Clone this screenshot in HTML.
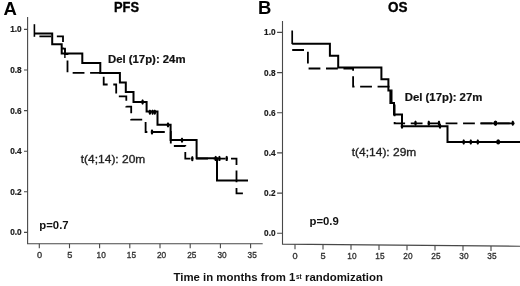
<!DOCTYPE html>
<html><head><meta charset="utf-8">
<style>
html,body{margin:0;padding:0;background:#fff;width:520px;height:286px;overflow:hidden}
svg{display:block;filter:blur(0.3px)}
text{font-family:"Liberation Sans",sans-serif}
.b{font-weight:bold}
.yl{font-size:8.2px;font-weight:bold;fill:#1a1a1a;stroke:#1a1a1a;stroke-width:0.2;text-anchor:end}
.xl{font-size:9.2px;fill:#333;stroke:#333;stroke-width:0.35;text-anchor:middle}
.ax{stroke:#484848;stroke-width:1.1;fill:none}
.s{stroke:#000;stroke-width:2;fill:none;stroke-linejoin:miter;stroke-linecap:butt}
.d{stroke:#000;stroke-width:1.8;fill:none;stroke-dasharray:11.8 5.64;stroke-linejoin:miter}
.c{stroke:#000;stroke-width:1.4;fill:none}
.e{fill:#000}
</style></head><body>
<svg width="520" height="286" viewBox="0 0 520 286">
<!-- panel labels -->
<text class="b" x="3.5" y="14.7" font-size="18.5" fill="#000">A</text>
<text class="b" x="258" y="13.6" font-size="18.5" fill="#000">B</text>
<text class="b" x="114" y="12" font-size="14" fill="#000" stroke="#000" stroke-width="0.35" textLength="25" lengthAdjust="spacingAndGlyphs">PFS</text>
<text class="b" x="388" y="12" font-size="14" fill="#000" stroke="#000" stroke-width="0.35" textLength="19.5" lengthAdjust="spacingAndGlyphs">OS</text>

<!-- LEFT PANEL axes -->
<path class="ax" d="M27.6 17V243.7H262.7"/>
<path class="ax" d="M24 29.4H27.6M24 70H27.6M24 110.6H27.6M24 151.2H27.6M24 191.8H27.6M24 232.4H27.6"/>
<path class="ax" d="M39.3 243.7V248.2M69.5 243.7V248.2M99.6 243.7V248.2M129.8 243.7V248.2M160 243.7V248.2M190.2 243.7V248.2M220.4 243.7V248.2M250.6 243.7V248.2"/>
<g class="yl">
<text x="21.6" y="32.3">1.0</text>
<text x="21.6" y="72.9">0.8</text>
<text x="21.6" y="113.5">0.6</text>
<text x="21.6" y="154.1">0.4</text>
<text x="21.6" y="194.7">0.2</text>
<text x="21.6" y="235.3">0.0</text>
</g>
<g class="xl">
<text x="39.5" y="257.8">0</text>
<text x="69.7" y="257.8">5</text>
<text x="101.2" y="257.8" textLength="9.2" lengthAdjust="spacingAndGlyphs">10</text>
<text x="131.4" y="257.8" textLength="9.2" lengthAdjust="spacingAndGlyphs">15</text>
<text x="161.6" y="257.8" textLength="9.2" lengthAdjust="spacingAndGlyphs">20</text>
<text x="191.8" y="257.8" textLength="9.2" lengthAdjust="spacingAndGlyphs">25</text>
<text x="222.0" y="257.8" textLength="9.2" lengthAdjust="spacingAndGlyphs">30</text>
<text x="252.2" y="257.8" textLength="9.2" lengthAdjust="spacingAndGlyphs">35</text>
</g>

<!-- left curves -->
<path class="s" style="stroke-width:1.6" d="M34.4 24.2V36.8"/>
<path class="s" d="M34.4 33.6H52.2V44.2H61.7V53.5H82.3V63H100.3V72.9H119.9V82.4H125.8V92H133.5V102H146.6V111.6H157.5V124.7H170.6V140.1H196.6V158.3H217V180.5H248"/>
<path class="d" style="stroke-dashoffset:12.44" d="M34.4 36.3H63V48.6H65V54H67.5V72.8H103.7V84.5H116.2V96.4H126.3V106.7H131.2V119.7H145.6V132H170.8V146H185.3V158.6H236.5V193.4H248"/>
<path class="c" d="M64.9 49V58"/><ellipse class="e" cx="142.6" cy="102" rx="1.3" ry="2.7"/><ellipse class="e" cx="149.9" cy="112.2" rx="1.3" ry="2.7"/><ellipse class="e" cx="152.6" cy="112.2" rx="1.3" ry="2.7"/><ellipse class="e" cx="154.8" cy="112.2" rx="1.3" ry="2.7"/><ellipse class="e" cx="168" cy="124.9" rx="1.3" ry="2.7"/><ellipse class="e" cx="182" cy="140.2" rx="1.3" ry="2.7"/><ellipse class="e" cx="215.7" cy="158.4" rx="1.3" ry="2.7"/><ellipse class="e" cx="219.4" cy="158.4" rx="1.3" ry="2.7"/><ellipse class="e" cx="226.7" cy="158.4" rx="1.3" ry="2.7"/><ellipse class="e" cx="152" cy="132" rx="1.3" ry="2.7"/><ellipse class="e" cx="192.3" cy="158.6" rx="1.3" ry="2.7"/>

<text class="b" x="108" y="62.8" font-size="10.5" fill="#111" stroke="#111" stroke-width="0.2" textLength="77.5" lengthAdjust="spacingAndGlyphs">Del (17p): 24m</text>
<text x="80.8" y="162.6" font-size="10.2" fill="#1e1e1e" stroke="#1e1e1e" stroke-width="0.3" textLength="64.5" lengthAdjust="spacingAndGlyphs">t(4;14): 20m</text>
<text class="b" x="39.3" y="228.6" font-size="11.2" fill="#111" textLength="29.3" lengthAdjust="spacingAndGlyphs">p=0.7</text>

<!-- RIGHT PANEL axes -->
<path class="ax" d="M282.5 21V244.1L520 246.2"/>
<path class="ax" d="M277.1 32.4H282.5M277.1 72.6H282.5M277.1 112.8H282.5M277.1 152.9H282.5M277.1 193.1H282.5M277.1 233.3H282.5"/>
<path class="ax" d="M295 244.2V249.2M323 244.5V249.4M351 244.7V249.7M379 245V249.9M407 245.2V250.2M435 245.5V250.4M463 245.7V250.7M491 246V250.9"/>
<g class="yl">
<text x="275.5" y="35.3">1.0</text>
<text x="275.5" y="75.5">0.8</text>
<text x="275.5" y="115.7">0.6</text>
<text x="275.5" y="155.8">0.4</text>
<text x="275.5" y="196">0.2</text>
<text x="275.5" y="236.2">0.0</text>
</g>
<g class="xl">
<text x="295.0" y="258.6">0</text>
<text x="323.0" y="258.7">5</text>
<text x="351.9" y="258.8" textLength="9.2" lengthAdjust="spacingAndGlyphs">10</text>
<text x="379.9" y="258.8" textLength="9.2" lengthAdjust="spacingAndGlyphs">15</text>
<text x="407.9" y="258.9" textLength="9.2" lengthAdjust="spacingAndGlyphs">20</text>
<text x="435.9" y="259.0" textLength="9.2" lengthAdjust="spacingAndGlyphs">25</text>
<text x="463.9" y="259.1" textLength="9.2" lengthAdjust="spacingAndGlyphs">30</text>
<text x="491.9" y="259.2" textLength="9.2" lengthAdjust="spacingAndGlyphs">35</text>
</g>

<!-- right curves -->
<path class="s" style="stroke-width:1.7" d="M292.2 30.5V44.1"/>
<path class="s" d="M292.2 43.7H329.9V55.7H338.2V67.4H381.4V79.3H388.4V90.5H390.4V103H394V114.6H402V126.3H447.5V142H520"/>
<path class="d" d="M292.2 50H307.9V68.5H353.1V86.7H388.6V90.5H391.6V103H394.6V123.3H513.4"/>
<ellipse class="e" cx="402" cy="126.3" rx="1.3" ry="2.7"/><ellipse class="e" cx="440" cy="126.3" rx="1.3" ry="2.7"/><ellipse class="e" cx="463.7" cy="142" rx="1.3" ry="2.7"/><ellipse class="e" cx="470.8" cy="142" rx="1.3" ry="2.7"/><ellipse class="e" cx="477.8" cy="142" rx="1.3" ry="2.7"/><ellipse class="e" cx="415.5" cy="123.3" rx="1.3" ry="2.7"/><ellipse class="e" cx="428.8" cy="123.3" rx="1.3" ry="2.7"/><ellipse class="e" cx="439" cy="123.3" rx="1.3" ry="2.7"/><ellipse class="e" cx="512.8" cy="123.3" rx="1.3" ry="2.7"/>
<ellipse class="e" cx="498.2" cy="141.9" rx="2" ry="2.7"/>
<ellipse class="e" cx="495.5" cy="123.3" rx="2" ry="2.7"/><path class="s" style="stroke-width:1.8" d="M480.5 123.3H514.5"/>

<text class="b" x="404.8" y="101.2" font-size="10.5" fill="#111" stroke="#111" stroke-width="0.2" textLength="77.5" lengthAdjust="spacingAndGlyphs">Del (17p): 27m</text>
<text x="351.8" y="156.1" font-size="10.2" fill="#1e1e1e" stroke="#1e1e1e" stroke-width="0.3" textLength="64.5" lengthAdjust="spacingAndGlyphs">t(4;14): 29m</text>
<text class="b" x="309.5" y="225" font-size="11.2" fill="#111" textLength="29.3" lengthAdjust="spacingAndGlyphs">p=0.9</text>

<!-- x axis title -->
<text class="b" x="173.5" y="281.2" font-size="11.4" fill="#111">Time in months from 1<tspan font-size="6.3" dy="-2.6" dx="0.6">st</tspan><tspan dy="2.6" dx="0.3"> randomization</tspan></text>
</svg>
</body></html>
